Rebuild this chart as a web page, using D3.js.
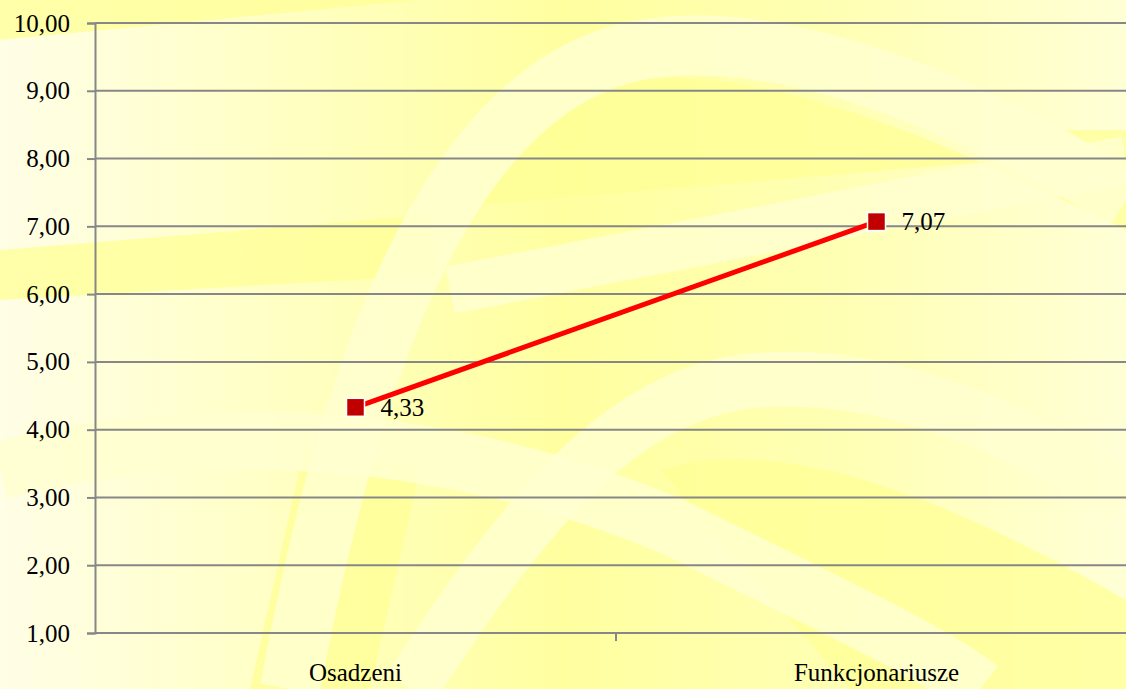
<!DOCTYPE html>
<html>
<head>
<meta charset="utf-8">
<script src="https://cdn.jsdelivr.net/npm/d3@7"></script>
<style>
  body { margin: 0; background: #fffee6; }
  svg { display: block; }
  text { font-family: "Liberation Serif", "Times New Roman", serif; fill: #000; }
</style>
</head>
<body>
<svg width="1126" height="689"></svg>
<script>
// data
var categories = ["Osadzeni", "Funkcjonariusze"];
var values = [4.33, 7.07];
var valueLabels = ["4,33", "7,07"];
var yTicks = [1, 2, 3, 4, 5, 6, 7, 8, 9, 10];

var W = 1126, H = 689;
var svg = d3.select('svg');

// background gradient
var defs = svg.append('defs');
var grad = defs.append('linearGradient').attr('id', 'bg').attr('x1', 0).attr('x2', 1).attr('y1', 0).attr('y2', 0);
[['0%', '#fffee6'], ['25%', '#ffffc4'], ['50%', '#ffffa0'], ['75%', '#ffffb4'], ['100%', '#ffffd6']]
    .forEach(function(s){ grad.append('stop').attr('offset', s[0]).attr('stop-color', s[1]); });

var bg = svg.append('g');
bg.append('rect').attr('width', W).attr('height', H).attr('fill', 'url(#bg)');

// darker yellow patches
var dark = [
    "M0,0 L420,0 L0,40 Z",
    "M480,205 C540,110 600,75 680,78 C820,85 960,150 1126,230 L1126,150 Z",
    "M0,250 L430,215 L440,275 L0,300 Z",
    "M250,689 L305,445 L420,470 L370,689 Z",
    "M660,470 C760,440 900,470 1126,600 L1126,689 L850,689 Z",
    "M1060,130 L1126,130 L1126,165 Z"
];
bg.selectAll('path.dark').data(dark).enter().append('path')
    .attr('class', 'dark').attr('d', function(d){ return d; })
    .attr('fill', '#ffff96').attr('opacity', 0.75);

// lighter stripes
var light = [
    {d: "M290,689 C340,420 430,90 640,50 C790,25 980,110 1126,200", w: 60},
    {d: "M450,290 L1126,160", w: 48},
    {d: "M0,470 C200,420 450,430 680,530 C820,600 930,650 980,689", w: 58},
    {d: "M410,689 C520,520 620,390 760,380 C900,370 1040,440 1126,500", w: 55}
];
bg.selectAll('path.light').data(light).enter().append('path')
    .attr('class', 'light').attr('d', function(d){ return d.d; })
    .attr('fill', 'none').attr('stroke', '#ffffd0').attr('stroke-width', function(d){ return d.w; })
    .attr('opacity', 0.85);

// scales
var x = d3.scaleBand().domain(categories).range([95, 1137]);
var y = d3.scaleLinear().domain([1, 10]).range([633, 23]);

var chart = svg.append('g');

// gridlines
chart.selectAll('line.grid').data(yTicks).enter().append('line')
    .attr('class', 'grid')
    .attr('x1', 95).attr('x2', W)
    .attr('y1', function(d){ return y(d); }).attr('y2', function(d){ return y(d); })
    .attr('stroke', '#878787').attr('stroke-width', 2);

// y axis
var yAxis = chart.append('g')
    .attr('transform', 'translate(95,0)')
    .call(d3.axisLeft(y).tickValues(yTicks).tickSize(8).tickPadding(17)
        .tickFormat(function(d){ return d3.format('.2f')(d).replace('.', ','); }));
yAxis.select('.domain').attr('stroke', '#878787').attr('stroke-width', 2);
yAxis.selectAll('.tick line').attr('stroke', '#878787').attr('stroke-width', 2);
yAxis.selectAll('.tick text').attr('font-size', 25).attr('fill', '#000');

// x axis
var xAxis = chart.append('g')
    .attr('transform', 'translate(0,633)')
    .call(d3.axisBottom(x).tickSize(0).tickPadding(30));
xAxis.select('.domain').remove();
xAxis.selectAll('.tick text').attr('font-size', 25).attr('fill', '#000');
// category separators
var seps = x.domain().slice(1).map(function(c){ return x(c); });
chart.selectAll('line.sep').data(seps).enter().append('line')
    .attr('class', 'sep')
    .attr('x1', function(d){ return d; }).attr('x2', function(d){ return d; })
    .attr('y1', 633).attr('y2', 641)
    .attr('stroke', '#878787').attr('stroke-width', 2);

// line
var pts = categories.map(function(c, i){ return {c: c, v: values[i], label: valueLabels[i]}; });
var line = d3.line()
    .x(function(d){ return x(d.c) + x.bandwidth() / 2; })
    .y(function(d){ return y(d.v); });
chart.append('path').datum(pts)
    .attr('d', line)
    .attr('fill', 'none').attr('stroke', '#ff0000').attr('stroke-width', 5);

// markers
chart.selectAll('rect.mark').data(pts).enter().append('rect')
    .attr('class', 'mark')
    .attr('x', function(d){ return x(d.c) + x.bandwidth() / 2 - 9; })
    .attr('y', function(d){ return y(d.v) - 9; })
    .attr('width', 18).attr('height', 18)
    .attr('fill', '#c00000').attr('stroke', '#ffffff').attr('stroke-width', 1.5);

// value labels
chart.selectAll('text.val').data(pts).enter().append('text')
    .attr('class', 'val')
    .attr('x', function(d){ return x(d.c) + x.bandwidth() / 2 + 25; })
    .attr('y', function(d){ return y(d.v); })
    .attr('dy', '0.35em')
    .attr('font-size', 25)
    .text(function(d){ return d.label; });
</script>
</body>
</html>
